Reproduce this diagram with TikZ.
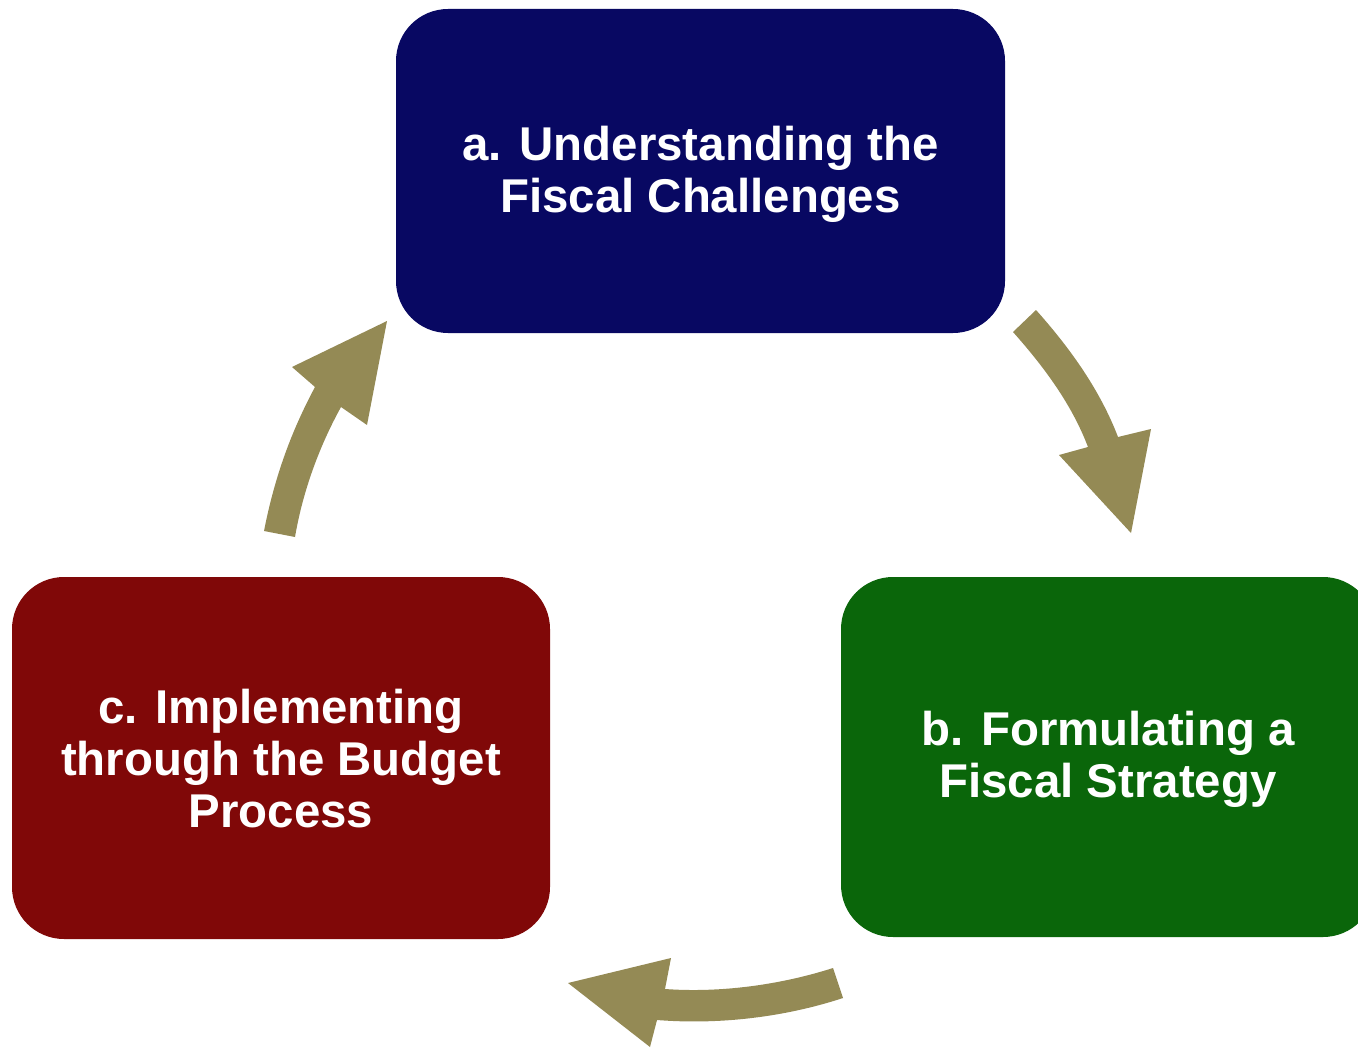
\documentclass[tikz,border=0pt]{standalone}
\usepackage{fontspec}
\setmainfont{Liberation Sans}
\definecolor{navybox}{HTML}{080862}
\definecolor{greenbox}{HTML}{0A660A}
\definecolor{redbox}{HTML}{800808}
\definecolor{olivearrow}{HTML}{948A55}
\begin{document}
\begin{tikzpicture}[x=0.5pt,y=-0.5pt,
  stagebox/.style={rectangle, rounded corners=26pt, draw=none, inner sep=0pt},
  stagetext/.style={text=white, align=center, inner sep=0pt,
    font=\fontsize{23.7pt}{26pt}\selectfont\bfseries},
  cyclearrow/.style={fill=olivearrow, draw=none}]
\useasboundingbox (0,0) rectangle (1358,1048);
\clip (0,0) rectangle (1358,1048);

% the three stages of the cycle
\node[stagebox, fill=navybox, minimum width=304.5pt, minimum height=162pt]
  (understand) at (700.5,171) {};
\node[stagebox, fill=greenbox, minimum width=267pt, minimum height=180pt]
  (formulate) at (1108,757) {};
\node[stagebox, fill=redbox, minimum width=269pt, minimum height=181pt]
  (implement) at (281,758) {};

% stage captions, set a little below each box centre
\node[stagetext, yshift=-1.5pt] (understandtext) at (understand.center)
  {a. Understanding the\\Fiscal Challenges};
\node[stagetext, yshift=-1pt] (formulatetext) at (formulate.center)
  {b. Formulating a\\Fiscal Strategy};
\node[stagetext, yshift=-0.5pt] (implementtext) at (implement.center)
  {c. Implementing\\through the Budget\\Process};

% curved block arrows between the stages
\fill[cyclearrow] (1013,332) .. controls (1045,368) and (1072,405) .. (1088,447)
  -- (1059,455) -- (1131,533) -- (1151,429) -- (1118,437)
  .. controls (1100,390) and (1070,348) .. (1036,310) -- cycle;

\fill[cyclearrow] (843,998) .. controls (785,1017) and (720,1025) .. (657,1020)
  -- (650,1047) -- (568,983) -- (671,958) -- (665,989)
  .. controls (720,993) and (780,985) .. (833,968) -- cycle;

\fill[cyclearrow] (264,531) .. controls (275,475) and (292,430) .. (315,387)
  -- (292,367) -- (387,321) -- (367,425) -- (341,407)
  .. controls (320,445) and (303,490) .. (295,537) -- cycle;
\end{tikzpicture}
\end{document}
